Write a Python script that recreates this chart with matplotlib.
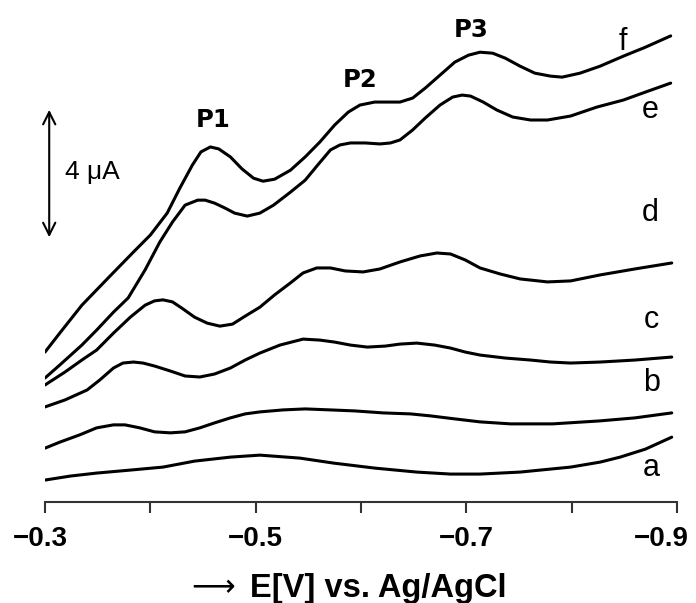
import matplotlib
matplotlib.use("Agg")
import matplotlib.pyplot as plt
from matplotlib.transforms import ScaledTranslation

# potential (V) and current (uA)
f_x = [-0.300, -0.314, -0.335, -0.360, -0.384, -0.400, -0.416, -0.428, -0.440, -0.448, -0.457,
       -0.465, -0.476, -0.487, -0.498, -0.507, -0.518, -0.533, -0.547, -0.561, -0.575, -0.588,
       -0.599, -0.613, -0.628, -0.637, -0.649, -0.661, -0.675, -0.689, -0.702, -0.713, -0.725,
       -0.737, -0.751, -0.765, -0.780, -0.791, -0.808, -0.827, -0.849, -0.870, -0.894]
f_y = [4.51, 5.08, 5.92, 6.74, 7.52, 8.03, 8.69, 9.44, 10.14, 10.53, 10.68,
       10.62, 10.38, 10.02, 9.74, 9.65, 9.71, 9.98, 10.38, 10.83, 11.34, 11.73,
       11.94, 12.03, 12.03, 12.03, 12.15, 12.45, 12.84, 13.23, 13.44, 13.53, 13.50,
       13.35, 13.11, 12.90, 12.81, 12.78, 12.90, 13.11, 13.41, 13.68, 14.02]

e_x = [-0.300, -0.314, -0.335, -0.349, -0.365, -0.379, -0.395, -0.409, -0.421, -0.433, -0.445,
       -0.452, -0.461, -0.471, -0.480, -0.492, -0.504, -0.517, -0.533, -0.547, -0.559, -0.571,
       -0.580, -0.590, -0.604, -0.618, -0.628, -0.637, -0.649, -0.661, -0.675, -0.687, -0.696,
       -0.704, -0.716, -0.729, -0.744, -0.761, -0.777, -0.799, -0.824, -0.849, -0.870, -0.894]
e_y = [3.73, 4.12, 4.72, 5.17, 5.71, 6.14, 6.98, 7.82, 8.42, 8.93, 9.08,
       9.08, 8.99, 8.84, 8.69, 8.60, 8.69, 8.93, 9.32, 9.68, 10.14, 10.59,
       10.74, 10.80, 10.80, 10.77, 10.80, 10.89, 11.19, 11.55, 11.94, 12.18, 12.24,
       12.21, 12.03, 11.79, 11.58, 11.49, 11.49, 11.61, 11.88, 12.09, 12.33, 12.60]

d_x = [-0.300, -0.319, -0.335, -0.349, -0.365, -0.381, -0.395, -0.404, -0.412, -0.421, -0.430,
       -0.442, -0.454, -0.466, -0.478, -0.490, -0.504, -0.518, -0.533, -0.545, -0.558, -0.571,
       -0.585, -0.602, -0.618, -0.637, -0.656, -0.672, -0.685, -0.699, -0.713, -0.732, -0.751,
       -0.777, -0.799, -0.827, -0.860, -0.895]
d_y = [3.52, 3.91, 4.27, 4.57, 5.08, 5.56, 5.92, 6.05, 6.08, 6.02, 5.83,
       5.56, 5.38, 5.29, 5.35, 5.59, 5.86, 6.23, 6.59, 6.89, 7.04, 7.04,
       6.95, 6.92, 7.01, 7.22, 7.40, 7.49, 7.46, 7.28, 7.04, 6.86, 6.71,
       6.62, 6.65, 6.83, 7.01, 7.19]

c_x = [-0.300, -0.319, -0.340, -0.352, -0.365, -0.374, -0.384, -0.393, -0.404, -0.419, -0.433,
       -0.447, -0.461, -0.476, -0.490, -0.504, -0.523, -0.545, -0.561, -0.575, -0.590, -0.606,
       -0.623, -0.637, -0.653, -0.670, -0.685, -0.699, -0.713, -0.737, -0.761, -0.780, -0.799,
       -0.827, -0.860, -0.895]
c_y = [2.86, 3.07, 3.37, 3.67, 4.03, 4.18, 4.21, 4.18, 4.09, 3.94, 3.79,
       3.76, 3.85, 4.03, 4.27, 4.48, 4.72, 4.90, 4.87, 4.81, 4.72, 4.66,
       4.69, 4.75, 4.78, 4.72, 4.63, 4.51, 4.42, 4.33, 4.27, 4.21, 4.18,
       4.21, 4.27, 4.36]

b_x = [-0.300, -0.314, -0.333, -0.349, -0.365, -0.376, -0.390, -0.404, -0.419, -0.433, -0.447,
       -0.461, -0.476, -0.490, -0.504, -0.526, -0.547, -0.571, -0.594, -0.621, -0.647, -0.666,
       -0.689, -0.713, -0.742, -0.782, -0.827, -0.860, -0.895]
b_y = [1.62, 1.80, 2.02, 2.23, 2.32, 2.32, 2.23, 2.11, 2.08, 2.11, 2.23,
       2.38, 2.53, 2.65, 2.71, 2.77, 2.80, 2.77, 2.74, 2.68, 2.65, 2.59,
       2.50, 2.41, 2.35, 2.35, 2.44, 2.53, 2.68]

a_x = [-0.300, -0.324, -0.349, -0.381, -0.412, -0.442, -0.476, -0.504, -0.542, -0.574,
       -0.613, -0.653, -0.685, -0.713, -0.751, -0.799, -0.827, -0.846, -0.870, -0.895]
a_y = [0.66, 0.78, 0.87, 0.96, 1.05, 1.23, 1.35, 1.41, 1.32, 1.17,
       1.02, 0.90, 0.84, 0.84, 0.90, 1.05, 1.20, 1.35, 1.59, 1.95]

curve_names = ["a", "b", "c", "d", "e", "f"]
name_y = [1.02, 3.58, 5.47, 8.69, 11.79, 13.83]
name_x = [-0.876, -0.876, -0.876, -0.875, -0.875, -0.849]

peak_names = ["P1", "P2", "P3"]
peak_x = [-0.460, -0.599, -0.705]
peak_y = [11.49, 12.69, 14.20]

tick_vals = [-0.3, -0.4, -0.5, -0.6, -0.7, -0.8, -0.9]
tick_text = ["\u22120.3", "", "\u22120.5", "", "\u22120.7", "", "\u22120.9"]

sans = ["Liberation Sans", "DejaVu Sans"]

fig = plt.figure(figsize=(6.96, 6.03), dpi=100)
ax = fig.add_axes([45 / 696, 101 / 603, 632 / 696, 502 / 603])

curves = [(a_x, a_y), (b_x, b_y), (c_x, c_y), (d_x, d_y), (e_x, e_y), (f_x, f_y)]
for xs, ys in curves:
    ax.plot(xs, ys, color="black", lw=2.2, solid_capstyle="round", solid_joinstyle="round")

for name, x, y in zip(curve_names, name_x, name_y):
    ax.text(x, y, name, family=sans, fontsize=22, ha="center", va="center")

for name, x, y in zip(peak_names, peak_x, peak_y):
    ax.text(x, y, name, family="DejaVu Sans", fontweight="bold", fontsize=17.5, ha="center", va="center")

# 4 uA scale bar
ax.annotate("", xy=(-0.3040, 11.88), xytext=(-0.3040, 7.88),
            arrowprops=dict(arrowstyle="<->", color="black", lw=1.5, mutation_scale=22))
ax.text(-0.345, 9.92, "4 \u03bcA", family=sans, fontsize=19, ha="center", va="center")

ax.set_xlim(-0.3, -0.9)
ax.set_ylim(0, 15.1)
ax.set_xticks(tick_vals)
ax.set_xticklabels(tick_text, family=sans, fontweight="bold", fontsize=20)
ax.tick_params(axis="x", direction="out", length=8, width=1.5, color="#333333", pad=9)
ax.set_yticks([])
for side in ["left", "right", "top"]:
    ax.spines[side].set_visible(False)
ax.spines["bottom"].set_linewidth(1.5)
ax.spines["bottom"].set_color("#333333")

# end tick labels sit a little to the left of their ticks, as in the original
last = ax.get_xticklabels()[-1]
last.set_transform(last.get_transform() + ScaledTranslation(-11 / 72, 0, fig.dpi_scale_trans))
first = ax.get_xticklabels()[0]
first.set_transform(first.get_transform() + ScaledTranslation(-3 / 72, 0, fig.dpi_scale_trans))

fig.text(213 / 696, 1 - 588 / 603, "\u27f6", family="DejaVu Sans", fontsize=22, ha="center", va="center")
fig.text(250 / 696, 1 - 588 / 603, "E[V] vs. Ag/AgCl", family=sans,
         fontweight="bold", fontsize=23.5, ha="left", va="center")

fig.savefig("out.png", dpi=100)
